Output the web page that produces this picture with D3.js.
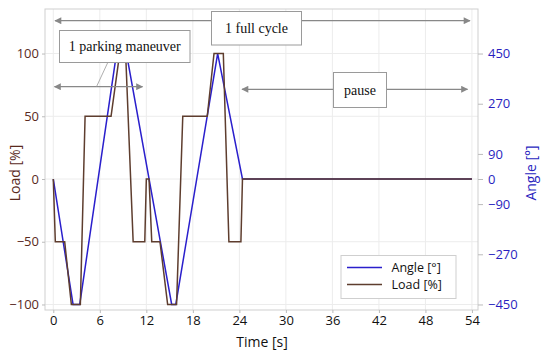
<!DOCTYPE html>
<html>
<head>
<meta charset="utf-8">
<script src="https://cdn.jsdelivr.net/npm/d3@7"></script>
<style>
  body { margin: 0; background: #fff; }
  svg { display: block; }
</style>
</head>
<body>
<div id="chart"></div>
<script>
const width = 550;
const height = 359;
const margin = { top: 9, right: 72, bottom: 49, left: 45 };

// time [s] and load [%]
const loadTime = [0, 0.26, 1.47, 2.33, 3.49, 4.1, 7.45, 8.56, 9.33, 10.3, 11.8, 12.0, 12.35, 12.7, 13.76, 14.75, 15.9, 16.7, 19.86, 20.73, 21.93, 22.65, 24.2, 24.4, 54];
const loadValues = [0, -50, -50, -100, -100, 50, 50, 100, 100, -50, -50, 0, 0, -50, -50, -100, -100, 50, 50, 100, 100, -50, -50, 0, 0];

// time [s] and angle [°]
const angleTime = [0, 2.55, 3.41, 8.15, 9.44, 15.27, 15.8, 21.2, 24.4, 54];
const angleValues = [0, -450, -450, 450, 450, -450, -450, 450, 0, 0];

const xTicks = [0, 6, 12, 18, 24, 30, 36, 42, 48, 54];
const loadTicks = [-100, -50, 0, 50, 100];
const angleTicks = [-450, -270, -90, 0, 90, 270, 450];

const blue = "#2a1fcc";
const brown = "#5e3d2e";
const leftText = "#5a2a1e";
const rightText = "#2a1fc0";
const sans = "'Open Sans', 'Noto Sans', sans-serif";
const serif = "'Liberation Serif', 'Times New Roman', serif";

const svg = d3.select("#chart").append("svg")
  .attr("width", width)
  .attr("height", height);

const x = d3.scaleLinear()
  .domain([-1.07, 54.78])
  .range([margin.left, width - margin.right]);

const yLoad = d3.scaleLinear()
  .domain([-104.4, 135.5])
  .range([height - margin.bottom, margin.top]);

const yAngle = d3.scaleLinear()
  .domain([-104.4 * 4.5, 135.5 * 4.5])
  .range([height - margin.bottom, margin.top]);

// grid
svg.append("g")
  .selectAll("line")
  .data(xTicks)
  .join("line")
  .attr("x1", (d) => x(d)).attr("x2", (d) => x(d))
  .attr("y1", margin.top).attr("y2", height - margin.bottom)
  .attr("stroke", "#ececec");

svg.append("g")
  .selectAll("line")
  .data(loadTicks)
  .join("line")
  .attr("x1", margin.left).attr("x2", width - margin.right)
  .attr("y1", (d) => yLoad(d)).attr("y2", (d) => yLoad(d))
  .attr("stroke", "#ececec");

// frame
svg.append("rect")
  .attr("x", margin.left)
  .attr("y", margin.top)
  .attr("width", width - margin.right - margin.left)
  .attr("height", height - margin.bottom - margin.top)
  .attr("fill", "none")
  .attr("stroke", "#cfcfcf");

// axes
const xAxis = svg.append("g")
  .attr("transform", `translate(0, ${height - margin.bottom})`)
  .call(d3.axisBottom(x).tickValues(xTicks).tickSize(3).tickPadding(3));

const leftAxis = svg.append("g")
  .attr("transform", `translate(${margin.left}, 0)`)
  .call(d3.axisLeft(yLoad).tickValues(loadTicks).tickSize(3).tickPadding(3)
    .tickFormat((d) => d < 0 ? "\u2212" + Math.abs(d) : d));

const rightAxis = svg.append("g")
  .attr("transform", `translate(${width - margin.right}, 0)`)
  .call(d3.axisRight(yAngle).tickValues(angleTicks).tickSize(5).tickPadding(5)
    .tickFormat((d) => d < 0 ? "\u2212" + Math.abs(d) : d));

[xAxis, leftAxis, rightAxis].forEach((g) => {
  g.select(".domain").remove();
  g.selectAll(".tick line").attr("stroke", "#bbb");
  g.selectAll("text").attr("font-family", sans).attr("font-size", 13);
});
xAxis.selectAll("text").attr("fill", "#111");
leftAxis.selectAll("text").attr("fill", leftText);
rightAxis.selectAll("text").attr("fill", rightText);

// axis titles
svg.append("text")
  .attr("x", 262).attr("y", 347)
  .attr("text-anchor", "middle")
  .attr("font-family", sans).attr("font-size", 14)
  .attr("fill", "#111")
  .text("Time [s]");

svg.append("text")
  .attr("transform", "translate(20, 173) rotate(-90)")
  .attr("text-anchor", "middle")
  .attr("font-family", sans).attr("font-size", 14)
  .attr("fill", leftText)
  .text("Load [%]");

svg.append("text")
  .attr("transform", "translate(536, 173) rotate(-90)")
  .attr("text-anchor", "middle")
  .attr("font-family", sans).attr("font-size", 14)
  .attr("fill", rightText)
  .text("Angle [°]");

// series
const angleData = angleTime.map((t, i) => ({ t, v: angleValues[i] }));
const loadData = loadTime.map((t, i) => ({ t, v: loadValues[i] }));

svg.append("path")
  .datum(angleData)
  .attr("fill", "none")
  .attr("stroke", blue)
  .attr("stroke-width", 1.5)
  .attr("d", d3.line().x((d) => x(d.t)).y((d) => yAngle(d.v)));

svg.append("path")
  .datum(loadData)
  .attr("fill", "none")
  .attr("stroke", brown)
  .attr("stroke-width", 1.5)
  .attr("d", d3.line().x((d) => x(d.t)).y((d) => yLoad(d.v)));

// annotations
const defs = svg.append("defs");
defs.append("marker")
  .attr("id", "arrow")
  .attr("viewBox", "0 0 10 10")
  .attr("refX", 9).attr("refY", 5)
  .attr("markerWidth", 8).attr("markerHeight", 7)
  .attr("markerUnits", "userSpaceOnUse")
  .attr("orient", "auto-start-reverse")
  .append("path")
  .attr("d", "M0,0 L10,5 L0,10 z")
  .attr("fill", "#888");

const ann = svg.append("g");

function doubleArrow(x1, x2, y) {
  ann.append("line")
    .attr("x1", x1).attr("x2", x2)
    .attr("y1", y).attr("y2", y)
    .attr("stroke", "#888")
    .attr("stroke-width", 1.2)
    .attr("marker-start", "url(#arrow)")
    .attr("marker-end", "url(#arrow)");
}

function labelBox(x0, y0, w, h, label) {
  ann.append("rect")
    .attr("x", x0).attr("y", y0)
    .attr("width", w).attr("height", h)
    .attr("fill", "#fff")
    .attr("stroke", "#9a9a9a");
  ann.append("text")
    .attr("x", x0 + w / 2).attr("y", y0 + h / 2 + 4.5)
    .attr("text-anchor", "middle")
    .attr("font-family", serif).attr("font-size", 14)
    .attr("fill", "#111")
    .text(label);
}

doubleArrow(55, 470, 20.7);
doubleArrow(54.5, 142.5, 86.7);
doubleArrow(242, 467.5, 89.3);

ann.append("line")
  .attr("x1", 108).attr("y1", 62)
  .attr("x2", 96.5).attr("y2", 86.7)
  .attr("stroke", "#999")
  .attr("stroke-width", 0.8);

labelBox(211.5, 11.5, 90, 33.5, "1 full cycle");
labelBox(59.5, 30.5, 130.5, 32, "1 parking maneuver");
labelBox(333.5, 72.5, 53, 35, "pause");

// legend
const legend = svg.append("g");
legend.append("rect")
  .attr("x", 341).attr("y", 255.5)
  .attr("width", 115).attr("height", 43)
  .attr("fill", "#fff")
  .attr("stroke", "#cfcfcf");

const legendItems = [
  { label: "Angle [°]", color: blue, y: 267.5 },
  { label: "Load [%]", color: brown, y: 284.5 },
];

legendItems.forEach((d) => {
  legend.append("line")
    .attr("x1", 347).attr("x2", 382)
    .attr("y1", d.y).attr("y2", d.y)
    .attr("stroke", d.color)
    .attr("stroke-width", 1.5);
  legend.append("text")
    .attr("x", 391.5).attr("y", d.y)
    .attr("dy", "0.33em")
    .attr("font-family", sans).attr("font-size", 12.5)
    .attr("fill", "#111")
    .text(d.label);
});
</script>
</body>
</html>
